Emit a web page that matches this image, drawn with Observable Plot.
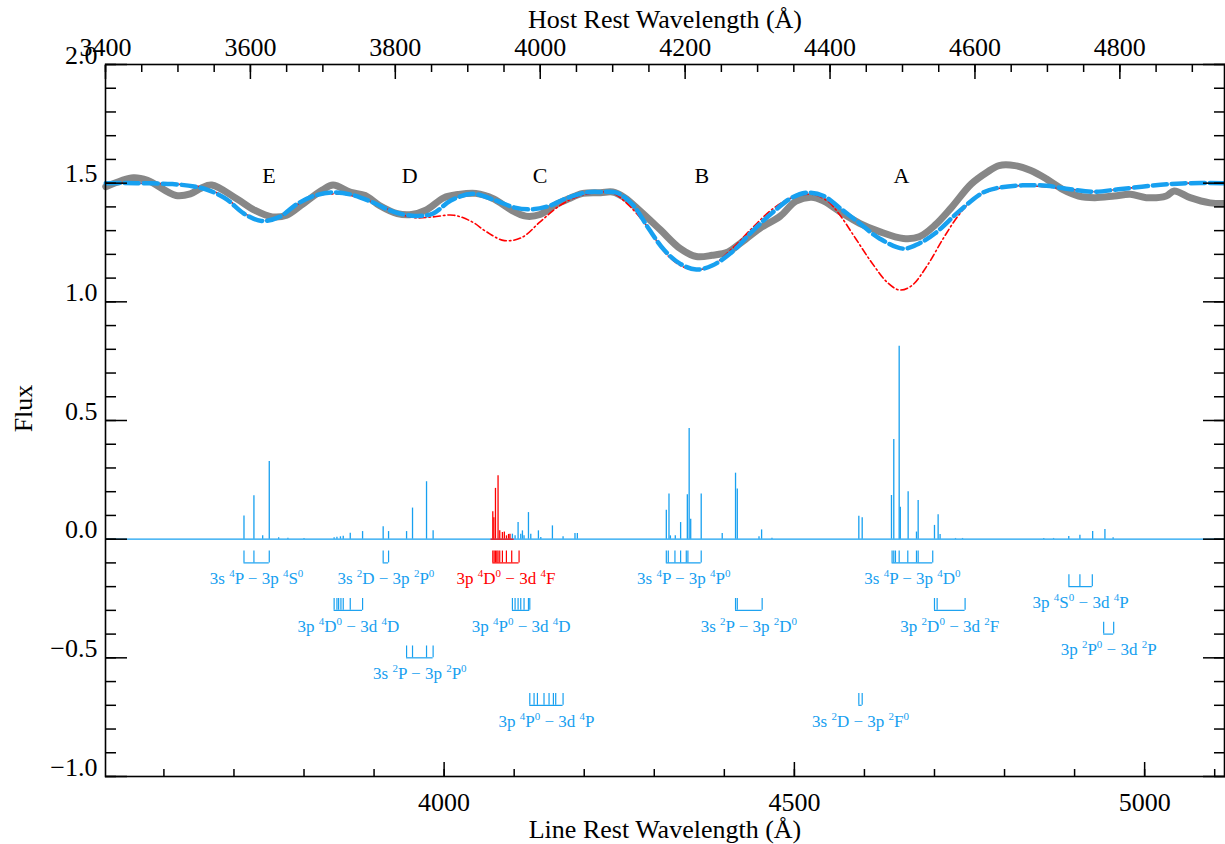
<!DOCTYPE html>
<html><head><meta charset="utf-8">
<script src="https://cdn.jsdelivr.net/npm/d3@7"></script>
<script src="https://cdn.jsdelivr.net/npm/@observablehq/plot@0.6"></script>
<style>html,body{margin:0;padding:0;background:#fff;overflow:hidden}</style>
</head><body><div id="chart"></div>
<script>
// ---------------- DATA ----------------
// Observed spectrum (gray), line-rest wavelength (Å) and flux
const obsWave = [3517,3556.5,3576.5,3617.3,3637.7,3653,3668.2,3703.9,3729.4,3754.8,3775.2,3795.6,3826.1,3841.4,3866.9,3887.3,3907.7,3933.1,3953.5,3973.9,3999.4,4019.7,4045.2,4070.8,4096.1,4116.5,4136.9,4157.3,4177.7,4198,4223.4,4240.6,4257.6,4280.4,4308.8,4337.2,4360,4382.7,4405.4,4422.5,4450.9,4479.4,4502.1,4524.8,4541.9,4564.6,4593.1,4621.5,4655.6,4678.3,4701.1,4723.8,4752.3,4775,4792.1,4814.8,4837.5,4860.2,4882.9,4905.7,4928.5,4956.8,4979.6,5002.3,5030.8,5042.1,5064.9,5093.2,5114];
const obsFlux = [1.485,1.523,1.512,1.448,1.455,1.479,1.492,1.434,1.386,1.358,1.365,1.406,1.471,1.492,1.461,1.448,1.406,1.372,1.368,1.386,1.438,1.452,1.457,1.434,1.386,1.361,1.368,1.406,1.434,1.457,1.46,1.463,1.439,1.381,1.303,1.224,1.191,1.196,1.21,1.246,1.31,1.36,1.424,1.441,1.424,1.381,1.331,1.296,1.267,1.274,1.324,1.396,1.496,1.546,1.574,1.574,1.553,1.517,1.474,1.446,1.439,1.446,1.453,1.439,1.446,1.467,1.439,1.417,1.414];

// Full model (blue dashed)
const modelWave = [3517,3561,3612,3643,3663,3688.6,3714,3739.5,3765,3790.5,3816,3841.4,3867,3897.5,3928,3958.6,3984,4009.6,4040,4070.8,4101,4126.7,4152,4172.6,4203,4223.4,4246,4269,4291.7,4314.5,4337.2,4360,4382.7,4411,4439.5,4468,4496.4,4519,4542,4564.6,4593,4621.5,4655.6,4678.3,4701,4735,4769,4792,4826,4860,4894,4928.5,4962.6,5008,5053.6,5114];
const modelFlux = [1.5,1.5,1.496,1.486,1.471,1.434,1.372,1.341,1.358,1.413,1.448,1.461,1.452,1.42,1.379,1.362,1.372,1.427,1.455,1.43,1.397,1.39,1.406,1.434,1.461,1.463,1.46,1.41,1.31,1.217,1.16,1.136,1.153,1.21,1.296,1.374,1.439,1.46,1.446,1.396,1.331,1.267,1.224,1.246,1.289,1.381,1.46,1.481,1.491,1.489,1.474,1.464,1.474,1.489,1.499,1.5];

// Alternative model (red dash-dot)
const altWave = [3517,3561,3612,3643,3663,3688.6,3714,3739.5,3765,3790.5,3816,3841.4,3867,3897.5,3928,3958.6,3984,4013.5,4040,4060,4086,4111.5,4137,4162,4188,4218,4239,4259,4290,4314.5,4337.2,4360,4382.7,4411,4439.5,4468,4496.4,4524.8,4547.6,4564.6,4587.4,4610,4632.9,4650,4667,4689.7,4712.5,4735,4757.8,4786.3,4820.5,4860,4894,4928.5,4962.6,5008,5053.6,5114];
const altFlux = [1.5,1.5,1.497,1.489,1.475,1.438,1.375,1.343,1.358,1.41,1.445,1.455,1.448,1.42,1.38,1.354,1.358,1.365,1.337,1.296,1.258,1.272,1.337,1.399,1.441,1.461,1.461,1.42,1.317,1.21,1.153,1.134,1.153,1.224,1.31,1.389,1.439,1.453,1.424,1.367,1.267,1.167,1.081,1.05,1.067,1.153,1.267,1.367,1.439,1.474,1.489,1.484,1.474,1.464,1.474,1.489,1.499,1.5];

// Synthetic line spectrum (blue), line positions and heights
const blueLineWave = [3714.3,3728.5,3741,3750.4,3763.8,3777,3800,3843,3847,3852,3856,3866,3883.6,3913,3920.7,3946.4,3954.9,3974.9,3984.3,4097.5,4101.3,4105.6,4109.4,4111.8,4114.1,4120.4,4123.7,4134.6,4138,4154.6,4169.8,4186.8,4190.2,4317.2,4321,4323,4330,4337.6,4347.2,4349.8,4352,4367,4397,4416,4418.5,4449.5,4453.2,4468,4592,4596.8,4638.6,4641.9,4649.6,4651.2,4662.4,4674.3,4676.7,4700,4705.2,4708,4730,4740,4856,4870,4891.7,4907.6,4925.8,4943.3,4955];
const blueLineFlux = [0.098,0.183,0.014,0.327,0.006,0.004,0.003,0.006,0.008,0.010,0.012,0.025,0.032,0.052,0.032,0.032,0.131,0.242,0.035,0.021,0.014,0.070,0.021,0.035,0.014,0.112,0.021,0.035,0.007,0.056,0.010,0.024,0.024,0.122,0.190,0.014,0.014,0.070,0.187,0.466,0.084,0.190,0.024,0.278,0.211,0.010,0.039,0.004,0.097,0.090,0.184,0.420,0.813,0.135,0.200,0.030,0.163,0.058,0.103,0.020,0.003,0.003,0.003,0.003,0.011,0.017,0.032,0.041,0.006];
// Highlighted multiplet (red)
const redLineWave = [4069.5,4071.0,4073.3,4077.0,4079.4,4083.2,4086,4089,4092,4094];
const redLineFlux = [0.115,0.09,0.214,0.267,0.035,0.028,0.03,0.014,0.02,0.021];
const redBaseRange = [4067, 4100];

// Multiplet identifications (^n marks a superscript character)
const multLabels = [
  "3s ^4P − 3p ^4S^0", "3s ^2D − 3p ^2P^0", "3p ^4D^0 − 3d ^4F", "3s ^4P − 3p ^4P^0", "3s ^4P − 3p ^4D^0",
  "3p ^4D^0 − 3d ^4D", "3p ^4P^0 − 3d ^4D", "3s ^2P − 3p ^2D^0", "3p ^2D^0 − 3d ^2F",
  "3s ^2P − 3p ^2P^0", "3p ^4P^0 − 3d ^4P", "3s ^2D − 3p ^2F^0",
  "3p ^4S^0 − 3d ^4P", "3p ^2P^0 − 3d ^2P"
];
const multComponents = [
  [3714.3,3728.5,3750.4],
  [3913,3920.7],
  [4069.5,4071.4,4073.3,4075.2,4077.0,4079.4,4083.2,4088.9,4096.5,4107],
  [4317.2,4320,4329.5,4337.6,4345.7,4348,4367],
  [4639.5,4641.9,4644.3,4649.6,4661.9,4674.3,4676.7,4697.5],
  [3843,3847,3849.4,3852.7,3856,3866,3883.6],
  [4097.5,4101.3,4105.6,4109.4,4114.1,4120.4,4122.3],
  [4416,4418.5,4454],
  [4700,4703.8,4743.7],
  [3946.4,3954.9,3974.9,3984.3],
  [4122.3,4128.4,4133.2,4142.6,4149.8,4156,4159.3,4169.8],
  [4592,4596.8],
  [4891.9,4907.6,4925.3],
  [4941.5,4955.8]
];
const multHighlighted = [false,false,true,false,false,false,false,false,false,false,false,false,false,false];

// Absorption feature letters
const featureNames = ["E","D","C","B","A"];
const featureWave = [3750,3951,4137,4368,4653];

// Axis ticks
const hostMajor = [3400,3600,3800,4000,4200,4400,4600,4800];
const lineMajor = [4000,4500,5000];
const fluxMajor = [-1,-0.5,0,0.5,1,1.5,2];
const zFactor = 1.0343; // line-rest / host-rest wavelength

// ---------------- LAYOUT / STYLE ----------------
const BLUE = "#17a0f0", RED = "#ff0000", GRAY = "#878787";
const rowTop = [-0.05, -0.05, -0.05, -0.05, -0.05, -0.25, -0.25, -0.25, -0.25, -0.45, -0.65, -0.65, -0.15, -0.35];
const bracketH = 0.05, labelGap = 0.067;

const hostMinor = d3.range(3400, 4951, 50);
const lineMinor = d3.range(3600, 5101, 100);
const fluxMinor = d3.range(-10, 21, 1).map(v => v / 10);

const obs = obsWave.map((w, i) => ({w, f: obsFlux[i]}));
const model = modelWave.map((w, i) => ({w, f: modelFlux[i]}));
const alt = altWave.map((w, i) => ({w, f: altFlux[i]}));
const blueLines = blueLineWave.map((w, i) => ({w, h: blueLineFlux[i]}));
const redLines = redLineWave.map((w, i) => ({w, h: redLineFlux[i]}));

const groups = multLabels.map((label, i) => {
  const comps = multComponents[i];
  const top = rowTop[i], bot = top - bracketH;
  return {label, color: multHighlighted[i] ? RED : BLUE, min: d3.min(comps), max: d3.max(comps),
    mid: (d3.min(comps) + d3.max(comps)) / 2, top, bot, ly: bot - labelGap};
});
const compTicks = groups.flatMap((g, i) => multComponents[i].map(w => ({w, top: g.top, bot: g.bot, color: g.color})));
const features = featureNames.map((n, i) => ({n, w: featureWave[i]}));

const noText = () => "";
const axisCommon = {label: null, strokeWidth: 1.5};

const plot = Plot.plot({
  width: 1225, height: 844,
  marginLeft: 105, marginRight: 1, marginTop: 64, marginBottom: 68,
  style: {fontFamily: "'Liberation Serif', 'DejaVu Serif', serif", fontSize: "26px", color: "black", background: "white"},
  x: {domain: [hostMajor[0] * zFactor, 5114], label: null},
  y: {domain: [-1, 2], label: null},
  marks: [
    // line spectrum
    Plot.ruleY([0], {stroke: BLUE, strokeWidth: 1.2}),
    Plot.ruleX(blueLines, {x: "w", y1: 0, y2: "h", stroke: BLUE, strokeWidth: 1.3}),
    Plot.ruleY([redBaseRange], {x1: d => d[0], x2: d => d[1], y: 0, stroke: RED, strokeWidth: 1.2}),
    Plot.ruleX(redLines, {x: "w", y1: 0, y2: "h", stroke: RED, strokeWidth: 1.3}),
    // multiplet brackets
    Plot.ruleX(compTicks, {x: "w", y1: "bot", y2: "top", stroke: "color", strokeWidth: 1.2}),
    Plot.ruleY(groups, {x1: "min", x2: "max", y: "bot", stroke: "color", strokeWidth: 1.2}),
    Plot.text(groups, {x: "mid", y: "ly", text: "label", fill: "color", fontSize: 17, lineAnchor: "middle"}),
    // spectra
    Plot.line(obs, {x: "w", y: "f", stroke: GRAY, strokeWidth: 7, curve: "catmull-rom", strokeLinejoin: "round"}),
    Plot.line(alt, {x: "w", y: "f", stroke: RED, strokeWidth: 1.6, strokeDasharray: "7,3,1.5,3", curve: "catmull-rom"}),
    Plot.line(model, {x: "w", y: "f", stroke: BLUE, strokeWidth: 4.5, strokeDasharray: "14,5", curve: "catmull-rom"}),
    // feature letters
    Plot.text(features, {x: "w", y: () => 1.53, text: "n", fontSize: 22, lineAnchor: "middle"}),
    // axes: bottom (line rest wavelength)
    Plot.axisX({...axisCommon, anchor: "bottom", ticks: lineMajor, tickSize: -14, tickFormat: noText}),
    Plot.axisX({...axisCommon, anchor: "bottom", ticks: lineMinor, tickSize: -7, tickFormat: noText}),
    Plot.axisX({...axisCommon, anchor: "bottom", ticks: lineMajor, tickSize: 0, tickPadding: 16, fontSize: 26, tickFormat: d => String(d)}),
    // top (host rest wavelength)
    Plot.axisX({...axisCommon, anchor: "top", ticks: hostMajor.map(h => h * zFactor), tickSize: -14, tickFormat: noText}),
    Plot.axisX({...axisCommon, anchor: "top", ticks: hostMinor.map(h => h * zFactor), tickSize: -7, tickFormat: noText}),
    Plot.axisX({...axisCommon, anchor: "top", ticks: hostMajor.map(h => h * zFactor), tickSize: 0, tickPadding: 9, fontSize: 26, tickFormat: d => String(Math.round(d / zFactor))}),
    // left / right
    Plot.axisY({...axisCommon, anchor: "left", ticks: fluxMajor, tickSize: -22, tickFormat: noText}),
    Plot.axisY({...axisCommon, anchor: "left", ticks: fluxMinor, tickSize: -11, tickFormat: noText}),
    Plot.axisY({...axisCommon, anchor: "left", ticks: fluxMajor, tickSize: 0, tickPadding: 8, fontSize: 26, lineAnchor: "bottom", dy: -1, tickFormat: d3.format(".1f")}),
    Plot.axisY({...axisCommon, anchor: "right", ticks: fluxMajor, tickSize: -22, tickFormat: noText}),
    Plot.axisY({...axisCommon, anchor: "right", ticks: fluxMinor, tickSize: -11, tickFormat: noText}),
    // axis titles
    Plot.text(["Host Rest Wavelength (Å)"], {text: d => d, frameAnchor: "top", dy: -37, lineAnchor: "bottom", fontSize: 26}),
    Plot.text(["Line Rest Wavelength (Å)"], {text: d => d, frameAnchor: "bottom", dy: 61, lineAnchor: "bottom", fontSize: 26}),
    Plot.text(["Flux"], {text: d => d, frameAnchor: "left", textAnchor: "middle", dx: -82, dy: -12, rotate: -90, lineAnchor: "middle", fontSize: 26}),
    Plot.frame({stroke: "black", strokeWidth: 1.6})
  ]
});

// superscripts in multiplet labels
plot.querySelectorAll("text").forEach(t => {
  const s = t.textContent;
  if (!s.includes("^")) return;
  while (t.firstChild) t.removeChild(t.firstChild);
  const parts = s.split(/\^(\d)/);
  let raised = false;
  parts.forEach((p, i) => {
    if (!p) return;
    const ts = document.createElementNS("http://www.w3.org/2000/svg", "tspan");
    ts.textContent = p;
    const sup = i % 2 === 1;
    if (sup && !raised) { ts.setAttribute("dy", "-7"); raised = true; }
    else if (!sup && raised) { ts.setAttribute("dy", "7"); raised = false; }
    if (sup) ts.setAttribute("font-size", "11");
    t.appendChild(ts);
  });
});

document.getElementById("chart").appendChild(plot);
</script></body></html>
